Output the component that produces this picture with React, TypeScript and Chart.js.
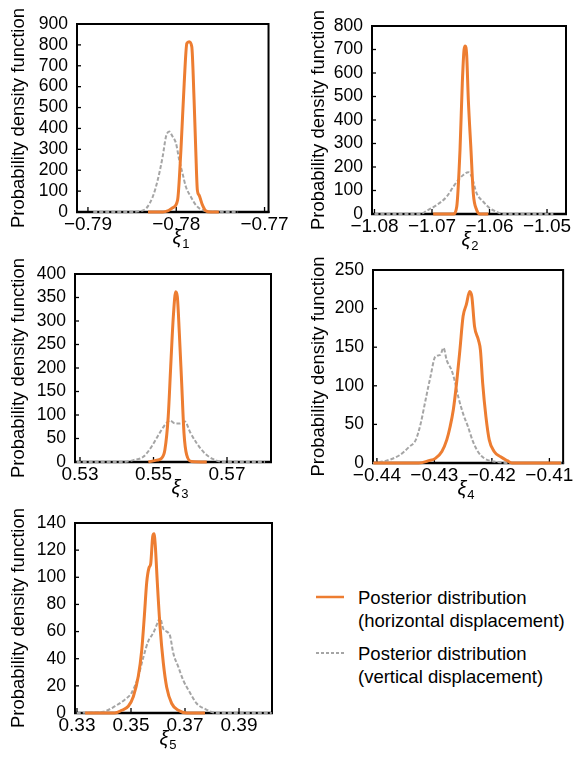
import React, { useEffect, useRef } from 'react';
import { Chart, registerables } from 'chart.js';

Chart.register(...registerables);

const FONT = '"Liberation Sans", Arial, sans-serif';
const ORANGE = '#ED7D31';
const GRAY = '#A5A5A5';

// ---------- data: [parameter value, probability density] ----------
const xi1Ticks = [-0.79, -0.78, -0.77];
const xi1Horizontal: [number, number][] = [
  [-0.7832, 0], [-0.7815, 0], [-0.78098, 5], [-0.78041, 20], [-0.77985, 57], [-0.77947, 297],
  [-0.7791, 616], [-0.7788, 807], [-0.77854, 815], [-0.77824, 791], [-0.77798, 536], [-0.77779, 297],
  [-0.77761, 105], [-0.77742, 81], [-0.77704, 34], [-0.77667, 6], [-0.7761, 0], [-0.77517, 0],
];
const xi1Vertical: [number, number][] = [
  [-0.7894, 0], [-0.785, 0], [-0.784, 5], [-0.7834, 17], [-0.78266, 73], [-0.7821, 153],
  [-0.78154, 265], [-0.78116, 361], [-0.78079, 385], [-0.78042, 361], [-0.78003, 329], [-0.77966, 249],
  [-0.77929, 185], [-0.77891, 121], [-0.77835, 73], [-0.77779, 34], [-0.77723, 13], [-0.77629, 3],
  [-0.773, 0],
];

const xi2Ticks = [-1.08, -1.07, -1.06, -1.05];
const xi2Horizontal: [number, number][] = [
  [-1.0698, 0], [-1.0663, 0], [-1.0657, 31], [-1.06513, 272], [-1.06473, 556], [-1.06443, 698],
  [-1.06421, 715], [-1.06397, 677], [-1.06368, 485], [-1.06322, 272], [-1.06282, 88], [-1.06223, 17],
  [-1.06165, 0], [-1.0602, 0],
];
const xi2Vertical: [number, number][] = [
  [-1.08, 0], [-1.072, 0], [-1.07092, 14], [-1.06918, 38], [-1.06744, 74], [-1.06629, 116],
  [-1.06542, 145], [-1.06456, 166], [-1.06368, 178], [-1.0631, 159], [-1.06223, 88], [-1.06108, 52],
  [-1.05991, 24], [-1.05875, 9], [-1.0576, 0], [-1.0489, 0],
];

const xi3Ticks = [0.53, 0.55, 0.57];
const xi3Horizontal: [number, number][] = [
  [0.5486, 0], [0.5509, 4], [0.5522, 8], [0.5531, 26], [0.554, 96], [0.55468, 203],
  [0.55539, 309], [0.55604, 362], [0.55648, 352], [0.55703, 274], [0.55767, 167], [0.5583, 61],
  [0.55903, 15], [0.5604, 1], [0.5645, 0],
];
const xi3Vertical: [number, number][] = [
  [0.5291, 0], [0.542, 0], [0.5445, 4], [0.54722, 11], [0.5495, 33], [0.55131, 57],
  [0.55313, 79], [0.55449, 88], [0.55585, 82], [0.55721, 82], [0.55857, 86], [0.55993, 64],
  [0.56175, 40], [0.56401, 18], [0.56627, 6], [0.569, 0], [0.5803, 0],
];

const xi4Ticks = [-0.44, -0.43, -0.42, -0.41];
const xi4Horizontal: [number, number][] = [
  [-0.4406, 0], [-0.4327, 0], [-0.43097, 3], [-0.42983, 6], [-0.4287, 15], [-0.42785, 30],
  [-0.42727, 47], [-0.42671, 69], [-0.42615, 103], [-0.42557, 146], [-0.42501, 190], [-0.42445, 205],
  [-0.42387, 222], [-0.42348, 215], [-0.42302, 177], [-0.42233, 159], [-0.42199, 146], [-0.4216, 103],
  [-0.42104, 60], [-0.42046, 30], [-0.41961, 15], [-0.41848, 8], [-0.41734, 3], [-0.4165, 0],
  [-0.408, 0],
];
const xi4Vertical: [number, number][] = [
  [-0.4407, 0], [-0.43835, 3], [-0.43608, 10], [-0.43438, 21], [-0.43324, 30], [-0.43239, 51],
  [-0.43153, 82], [-0.43068, 112], [-0.42983, 138], [-0.42898, 140], [-0.42842, 149], [-0.42785, 133],
  [-0.427, 120], [-0.42642, 105], [-0.42586, 86], [-0.42501, 64], [-0.42416, 47], [-0.4233, 28],
  [-0.42245, 15], [-0.42131, 6], [-0.41961, 2], [-0.4162, 0], [-0.4075, 0],
];

const xi5Ticks = [0.33, 0.35, 0.37, 0.39];
const xi5Horizontal: [number, number][] = [
  [0.333, 0], [0.344, 0], [0.34656, 2], [0.349, 5], [0.35085, 12], [0.3527, 27],
  [0.35396, 46], [0.35493, 71], [0.35581, 96], [0.35667, 107], [0.3573, 110], [0.35804, 130],
  [0.35852, 132], [0.35901, 123], [0.35975, 96], [0.36074, 64], [0.36196, 37], [0.36322, 19],
  [0.36507, 7], [0.36752, 2], [0.37063, 0], [0.3774, 0],
];
const xi5Vertical: [number, number][] = [
  [0.3299, 0], [0.33974, 1], [0.34407, 5], [0.34778, 10], [0.35026, 15], [0.3527, 27],
  [0.35456, 41], [0.35641, 53], [0.35826, 59], [0.35975, 66], [0.36074, 70], [0.36196, 62],
  [0.36322, 60], [0.36444, 57], [0.36567, 44], [0.36752, 34], [0.36937, 24], [0.37185, 15],
  [0.37433, 7], [0.37741, 3], [0.38174, 0], [0.4021, 0],
];

const yTitle = 'Probability density function';
const legendHorizontal = ['Posterior distribution', '(horizontal displacement)'];
const legendVertical = ['Posterior distribution', '(vertical displacement)'];

type Panel = {
  sub: string;
  horizontal: [number, number][];
  vertical: [number, number][];
  xTicks: number[];
  xMin: number;
  xMax: number;
  yMax: number;
  yStep: number;
  canvas: { l: number; t: number; w: number; h: number };
  area: { l: number; t: number; r: number; b: number };
  titleX: number;
  xiX: number;
};

const panels: Panel[] = [
  {
    sub: '1', horizontal: xi1Horizontal, vertical: xi1Vertical, xTicks: xi1Ticks,
    xMin: -0.79124, xMax: -0.76955, yMax: 900, yStep: 100,
    canvas: { l: 0, t: 0, w: 290, h: 258 }, area: { l: 77, t: 24, r: 270, b: 212 }, titleX: 19, xiX: 181,
  },
  {
    sub: '2', horizontal: xi2Horizontal, vertical: xi2Vertical, xTicks: xi2Ticks,
    xMin: -1.08043, xMax: -1.0467, yMax: 800, yStep: 100,
    canvas: { l: 290, t: 0, w: 285, h: 258 }, area: { l: 372, t: 26, r: 566, b: 214 }, titleX: 318.5, xiX: 470,
  },
  {
    sub: '3', horizontal: xi3Horizontal, vertical: xi3Vertical, xTicks: xi3Ticks,
    xMin: 0.52864, xMax: 0.58197, yMax: 400, yStep: 50,
    canvas: { l: 0, t: 250, w: 290, h: 258 }, area: { l: 75, t: 274, r: 271, b: 462 }, titleX: 19, xiX: 180,
  },
  {
    sub: '4', horizontal: xi4Horizontal, vertical: xi4Vertical, xTicks: xi4Ticks,
    xMin: -0.44068, xMax: -0.40761, yMax: 250, yStep: 50,
    canvas: { l: 290, t: 250, w: 285, h: 258 }, area: { l: 373, t: 270, r: 567, b: 463 }, titleX: 318.5, xiX: 466,
  },
  {
    sub: '5', horizontal: xi5Horizontal, vertical: xi5Vertical, xTicks: xi5Ticks,
    xMin: 0.32926, xMax: 0.40222, yMax: 140, yStep: 20,
    canvas: { l: 0, t: 500, w: 290, h: 260 }, area: { l: 75, t: 523, r: 272, b: 713 }, titleX: 19, xiX: 168,
  },
];

const TITLE_SIZE = 18.5;
const fmtX = (v: number) => v.toFixed(2).replace('-', '\u2212');

function PanelChart({ p }: { p: Panel }) {
  const ref = useRef<HTMLCanvasElement>(null);
  useEffect(() => {
    const { canvas: c, area: a } = p;
    const lineH = TITLE_SIZE * 1.2;
    const framePlugin = {
      id: 'frame',
      beforeDatasetsDraw(chart: any) {
        const { ctx, chartArea: ca, scales } = chart;
        ctx.save();
        ctx.strokeStyle = '#000';
        ctx.lineWidth = 2;
        ctx.strokeRect(ca.left, ca.top, ca.right - ca.left, ca.bottom - ca.top);
        ctx.lineWidth = 2.6;
        ctx.beginPath();
        ctx.moveTo(ca.left - 1, ca.bottom);
        ctx.lineTo(ca.right + 1, ca.bottom);
        ctx.stroke();
        ctx.lineWidth = 1.3;
        scales.x.ticks.forEach((t: any) => {
          const x = scales.x.getPixelForValue(t.value);
          ctx.beginPath();
          ctx.moveTo(x, ca.bottom);
          ctx.lineTo(x, ca.bottom - 5);
          ctx.stroke();
        });
        scales.y.ticks.forEach((t: any) => {
          const y = scales.y.getPixelForValue(t.value);
          ctx.beginPath();
          ctx.moveTo(ca.left, y);
          ctx.lineTo(ca.left + 4, y);
          ctx.stroke();
        });
        ctx.restore();
      },
      afterDraw(chart: any) {
        const { ctx, chartArea: ca } = chart;
        ctx.save();
        ctx.fillStyle = '#000';
        ctx.textBaseline = 'alphabetic';
        ctx.textAlign = 'left';
        ctx.font = `italic 20px ${FONT}`;
        const w1 = ctx.measureText('\u03BE').width;
        ctx.font = `13px ${FONT}`;
        const w2 = ctx.measureText(p.sub).width;
        const x0 = p.xiX - c.l - (w1 + w2 + 1) / 2;
        ctx.font = `italic 20px ${FONT}`;
        ctx.fillText('\u03BE', x0, ca.bottom + 32);
        ctx.font = `13px ${FONT}`;
        ctx.fillText(p.sub, x0 + w1 + 1, ca.bottom + 36);
        ctx.restore();
      },
    };
    const chart = new Chart(ref.current!, {
      type: 'line',
      data: {
        datasets: [
          {
            label: legendHorizontal.join(' '),
            data: p.horizontal.map(([x, y]) => ({ x, y })),
            borderColor: ORANGE,
            backgroundColor: ORANGE,
            borderWidth: 3,
            pointRadius: 0,
            cubicInterpolationMode: 'monotone',
            clip: false as any,
          },
          {
            label: legendVertical.join(' '),
            data: p.vertical.map(([x, y]) => ({ x, y })),
            borderColor: GRAY,
            backgroundColor: GRAY,
            borderWidth: 2,
            borderDash: [4, 2],
            pointRadius: 0,
            cubicInterpolationMode: 'monotone',
            clip: false as any,
          },
        ],
      },
      options: {
        animation: false,
        responsive: false,
        events: [],
        layout: {
          padding: { left: 0, top: a.t - c.t, right: c.l + c.w - a.r, bottom: 0 },
        },
        plugins: { legend: { display: false }, tooltip: { enabled: false } },
        scales: {
          x: {
            type: 'linear',
            min: p.xMin,
            max: p.xMax,
            grid: { display: false, drawTicks: false, tickLength: 0 },
            border: { display: false },
            afterBuildTicks: (s: any) => {
              s.ticks = p.xTicks.map((value) => ({ value }));
            },
            afterFit: (s: any) => {
              s.height = c.t + c.h - a.b;
            },
            ticks: {
              autoSkip: false,
              maxRotation: 0,
              minRotation: 0,
              padding: 1,
              color: '#000',
              font: { family: FONT, size: 19 },
              callback: (v: any) => fmtX(Number(v)),
            },
          },
          y: {
            type: 'linear',
            min: 0,
            max: p.yMax,
            grid: { display: false, drawTicks: false, tickLength: 0 },
            border: { display: false },
            afterFit: (s: any) => {
              s.width = a.l - c.l;
            },
            ticks: {
              stepSize: p.yStep,
              autoSkip: false,
              padding: 9,
              color: '#000',
              font: { family: FONT, size: 17.5 },
              callback: (v: any) => String(v),
            },
            title: {
              display: true,
              text: yTitle,
              color: '#000',
              font: { family: FONT, size: TITLE_SIZE },
              padding: { top: p.titleX - c.l - lineH / 2, bottom: 0 },
            },
          },
        },
      },
      plugins: [framePlugin],
    } as any);
    return () => chart.destroy();
  }, [p]);
  return (
    <canvas
      ref={ref}
      width={p.canvas.w}
      height={p.canvas.h}
      style={{ position: 'absolute', left: p.canvas.l, top: p.canvas.t, display: 'block' }}
    />
  );
}

function LegendItem({ top, dashed, lines }: { top: number; dashed: boolean; lines: string[] }) {
  return (
    <>
      <svg
        width={30}
        height={6}
        style={{ position: 'absolute', left: 315, top: top + 11.5 - 3 }}
      >
        <line
          x1={1}
          y1={3}
          x2={29}
          y2={3}
          stroke={dashed ? GRAY : ORANGE}
          strokeWidth={dashed ? 2 : 2.5}
          strokeDasharray={dashed ? '3 2' : undefined}
        />
      </svg>
      <div
        style={{
          position: 'absolute',
          left: 358,
          top,
          font: `18.5px ${FONT}`,
          lineHeight: '23px',
          color: '#000',
          whiteSpace: 'nowrap',
        }}
      >
        {lines.map((l, i) => (
          <div key={i}>{l}</div>
        ))}
      </div>
    </>
  );
}

export default function App() {
  return (
    <div style={{ position: 'absolute', left: 0, top: 0, width: 575, height: 760, background: '#fff', overflow: 'hidden' }}>
      {panels.map((p) => (
        <PanelChart key={p.sub} p={p} />
      ))}
      <LegendItem top={585.5} dashed={false} lines={legendHorizontal} />
      <LegendItem top={641.5} dashed={true} lines={legendVertical} />
    </div>
  );
}
